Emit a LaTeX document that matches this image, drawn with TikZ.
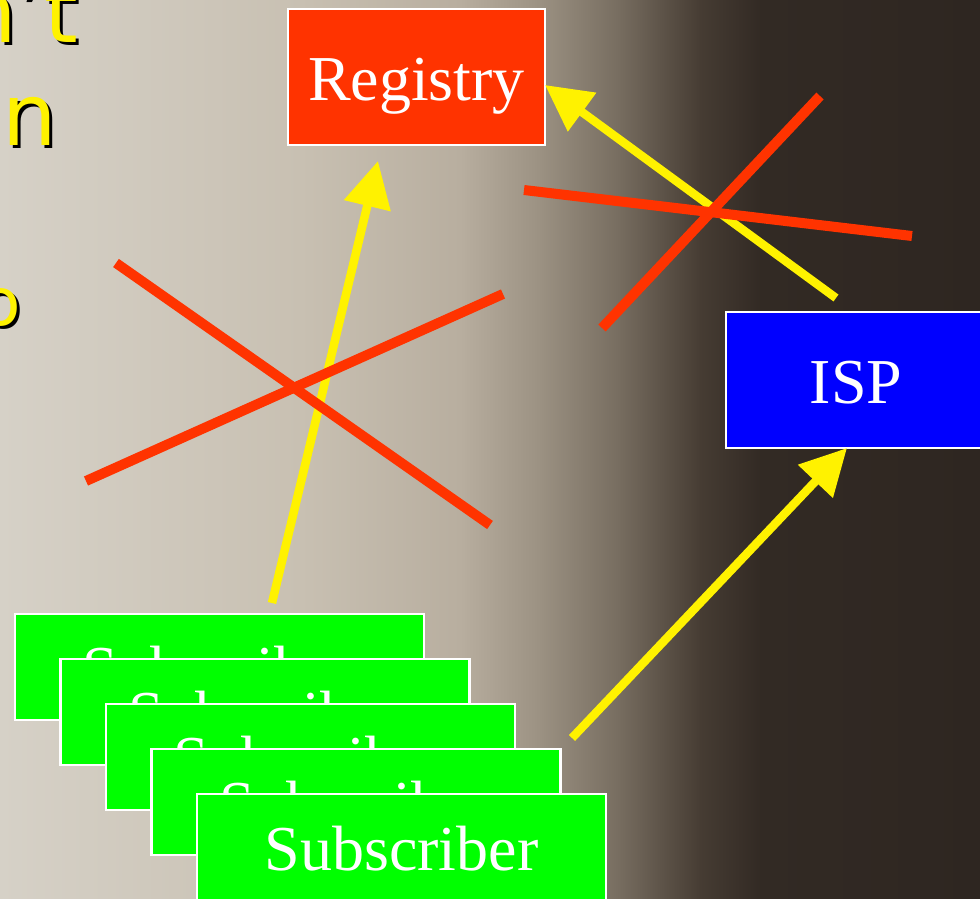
\documentclass[tikz,border=0pt]{standalone}
\usepackage{fontspec}
\setmainfont{Liberation Serif}
\newfontfamily\slidefont{DejaVu Sans}
\usetikzlibrary{arrows.meta}

\definecolor{regred}{RGB}{255,51,0}
\definecolor{ispblue}{RGB}{0,0,255}
\definecolor{subgreen}{RGB}{0,255,0}
\definecolor{bgA}{RGB}{214,209,199}
\definecolor{bgB}{RGB}{200,192,178}
\definecolor{bgC}{RGB}{184,174,159}
\definecolor{bgD}{RGB}{155,145,130}
\definecolor{bgE}{RGB}{118,108,95}
\definecolor{bgF}{RGB}{70,60,51}
\definecolor{bgG}{RGB}{50,42,36}
\definecolor{bgH}{RGB}{46,38,33}

\begin{document}
\begin{tikzpicture}[
      x=1pt,
      y=-1pt,
      box/.style={
        draw=white,
        line width=2.5pt,
        text=white,
        inner sep=0pt,
        font=\fontsize{64}{70}\selectfont,
        text height=46pt,
        text depth=0pt
      },
      subbox/.style={
        box,
        fill=subgreen,
        minimum width=409pt,
        minimum height=106pt
      },
      slidetxt/.style={
        inner sep=0pt,
        text=yellow
      },
      shadowtxt/.style={
        inner sep=0pt,
        text=black
      },
      yarrow/.style={
        draw=yellow,
        line width=8.5pt,
        -{Triangle[length=46pt,width=46pt]}
      },
      redline/.style={
        draw=regred,
        line width=10pt
      }
    ]
      \useasboundingbox (0,0) rectangle (980,898);
      \clip (0,0) rectangle (980,898);

      \shade[left color=bgA, right color=bgB] (0,0) rectangle (301,898);
      \shade[left color=bgB, right color=bgC] (300,0) rectangle (461,898);
      \shade[left color=bgC, right color=bgD] (460,0) rectangle (541,898);
      \shade[left color=bgD, right color=bgE] (540,0) rectangle (621,898);
      \shade[left color=bgE, right color=bgF] (620,0) rectangle (701,898);
      \shade[left color=bgF, right color=bgG] (700,0) rectangle (761,898);
      \shade[left color=bgG, right color=bgH] (760,0) rectangle (980,898);

      \node[shadowtxt, anchor=base east, font=\slidefont\fontsize{86}{90}\selectfont] (line1s) at (81,45) {n’t};
      \node[slidetxt, anchor=base east, font=\slidefont\fontsize{86}{90}\selectfont] (line1) at (78,42) {n’t};
      \node[shadowtxt, anchor=base west, font=\slidefont\fontsize{86}{90}\selectfont] (line2s) at (5,148) {n};
      \node[slidetxt, anchor=base west, font=\slidefont\fontsize{86}{90}\selectfont] (line2) at (2,145) {n};
      \node[shadowtxt, anchor=base west, font=\slidefont\fontsize{66}{70}\selectfont] (line3s) at (-17,328) {o};
      \node[slidetxt, anchor=base west, font=\slidefont\fontsize{66}{70}\selectfont] (line3) at (-20,325) {o};

      \node[box, fill=regred, minimum width=257pt, minimum height=136pt] (registry) at (416.5,77) {Registry};
      \node[box, fill=ispblue, minimum width=260pt, minimum height=136pt] (isp) at (856,380) {ISP};

      \node[subbox] (sub1) at (219.5,667) {Subscriber};
      \node[subbox] (sub2) at (265,712) {Subscriber};
      \node[subbox] (sub3) at (310.5,757) {Subscriber};
      \node[subbox] (sub4) at (356,802) {Subscriber};
      \node[subbox] (sub5) at (401.5,847) {Subscriber};

      \coordinate (sub-up) at (272,603);
      \coordinate (reg-below) at (378,161);
      \coordinate (isp-up) at (836,298);
      \coordinate (reg-right) at (545,85);
      \coordinate (sub-right) at (572,738);
      \coordinate (isp-below) at (847,448);

      \draw[yarrow] (sub-up) -- (reg-below);
      \draw[yarrow] (isp-up) -- (reg-right);
      \draw[yarrow] (sub-right) -- (isp-below);

      \coordinate (xa1) at (116,263);
      \coordinate (xa2) at (490,525);
      \coordinate (xa3) at (86,481);
      \coordinate (xa4) at (503,294);
      \coordinate (xb1) at (524,190);
      \coordinate (xb2) at (912,236);
      \coordinate (xb3) at (820,96);
      \coordinate (xb4) at (602,328);

      \draw[redline] (xa1) -- (xa2);
      \draw[redline] (xa3) -- (xa4);
      \draw[redline] (xb1) -- (xb2);
      \draw[redline] (xb3) -- (xb4);

    \end{tikzpicture}
\end{document}
